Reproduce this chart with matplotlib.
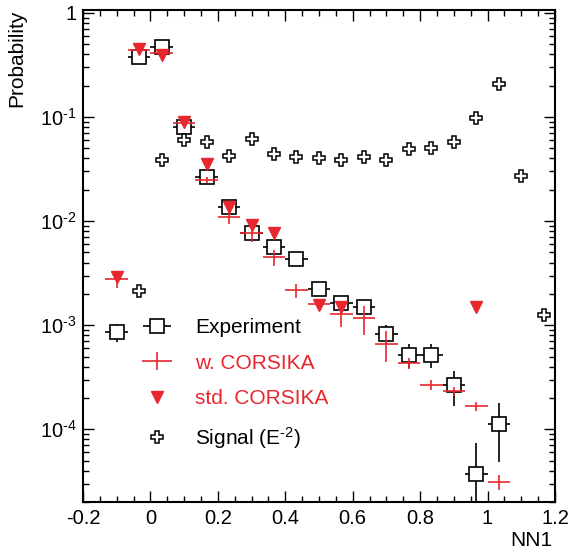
import numpy as np
import matplotlib
matplotlib.use('Agg')
import matplotlib.pyplot as plt
from matplotlib.ticker import FixedLocator, LogLocator, FuncFormatter, MultipleLocator
from matplotlib.legend_handler import HandlerErrorbar

plt.rcParams['font.family'] = ['Liberation Sans', 'DejaVu Sans']
plt.rcParams['mathtext.fontset'] = 'custom'
plt.rcParams['mathtext.rm'] = 'Liberation Sans'
plt.rcParams['mathtext.it'] = 'Liberation Sans:italic'
plt.rcParams['axes.unicode_minus'] = False

# bin centres of NN1 (bin width 1/15)
binWidth = 1 / 15
expX = [-0.1, -0.0333, 0.0333, 0.1, 0.1667, 0.2333, 0.3, 0.3667, 0.4333, 0.5,
        0.5667, 0.6333, 0.7, 0.7667, 0.8333, 0.9, 0.9667, 1.0333]
expY = [8.6e-4, 0.375, 0.474, 0.081, 0.0267, 0.0137, 0.0076, 0.00566, 0.00428, 0.00223,
        0.00164, 0.0015, 8.3e-4, 5.2e-4, 5.2e-4, 2.65e-4, 3.75e-5, 1.13e-4]
expErr = [1.75e-4, 0.0037, 0.004, 0.0017, 0.001, 7e-4, 5e-4, 4.5e-4, 4e-4, 2.8e-4,
          2.4e-4, 2.3e-4, 1.7e-4, 1.35e-4, 1.35e-4, 9.7e-5, 3.7e-5, 6.4e-5]

wcX = expX
wcY = [2.77e-3, 0.44, 0.41, 0.087, 0.0248, 0.011, 0.0076, 0.00447, 0.00217, 0.0016,
       0.00127, 0.00116, 6.6e-4, 4.3e-4, 2.69e-4, 2.32e-4, 1.66e-4, 3.1e-5]
wcErr = [5e-4, 0.01, 0.01, 0.002, 0.0017, 0.0016, 0.00125, 8e-4, 3.3e-4, 2e-4,
         3e-4, 3.6e-4, 2.2e-4, 5e-5, 3e-5, 2.5e-5, 1.5e-5, 5e-6]

stdX = [-0.1, -0.0333, 0.0333, 0.1, 0.1667, 0.2333, 0.3, 0.3667, 0.5, 0.5667, 0.9667]
stdY = [2.9e-3, 0.45, 0.39, 0.0895, 0.0353, 0.0136, 0.00917, 0.0076, 0.00155, 0.0015, 0.0015]

sigX = [-0.0333, 0.0333, 0.1, 0.1667, 0.2333, 0.3, 0.3667, 0.4333, 0.5, 0.5667,
        0.6333, 0.7, 0.7667, 0.8333, 0.9, 0.9667, 1.0333, 1.1, 1.1667]
sigY = [2.14e-3, 0.0386, 0.060, 0.058, 0.042, 0.061, 0.044, 0.0415, 0.040, 0.039,
        0.0415, 0.039, 0.049, 0.050, 0.057, 0.097, 0.206, 0.0273, 1.25e-3]

yTicks = [1, 1e-1, 1e-2, 1e-3, 1e-4]
yTickLabels = ['1', r'$\mathregular{10^{\text{-}1}}$', r'$\mathregular{10^{\text{-}2}}$',
               r'$\mathregular{10^{\text{-}3}}$', r'$\mathregular{10^{\text{-}4}}$']

red = '#e8262d'

fig = plt.figure(figsize=(5.7, 5.53), dpi=100)
ax = fig.add_axes([0.1456, 0.0922, 0.828, 0.89])
ax.set_yscale('log')
ax.set_xlim(-0.2, 1.2)
ax.set_ylim(2e-5, 1.07)

exp = ax.errorbar(expX, expY, xerr=binWidth / 2, yerr=expErr, fmt='s', ms=9.5,
                  mfc='white', mec='black', mew=1.2, ecolor='black', elinewidth=1.2,
                  capsize=0, label='Experiment', zorder=3)
wc = ax.errorbar(wcX, wcY, xerr=binWidth / 2, yerr=wcErr, fmt='none', ecolor=red,
                 elinewidth=1.2, capsize=0, label='w. CORSIKA', zorder=4)
std, = ax.plot(stdX, stdY, 'v', color=red, ms=9, ls='none', label='std. CORSIKA', zorder=5)
sig, = ax.plot(sigX, sigY, 'P', mfc='white', mec='black', mew=1.1, ms=9, ls='none',
               label=r'Signal (E$^{\mathregular{\text{-}2}}$)', zorder=5)

# axis ticks
ax.xaxis.set_major_locator(MultipleLocator(0.2))
ax.xaxis.set_minor_locator(MultipleLocator(0.05))
ax.xaxis.set_major_formatter(FuncFormatter(lambda v, p: f'{v:.1f}'.rstrip('0').rstrip('.') if abs(v) > 1e-9 else '0'))
ax.yaxis.set_major_locator(FixedLocator(yTicks))
ax.yaxis.set_major_formatter(FuncFormatter(lambda v, p: yTickLabels[yTicks.index(v)] if v in yTicks else ''))
ax.yaxis.set_minor_locator(LogLocator(base=10, subs=np.arange(2, 10)))
ax.yaxis.set_minor_formatter(FuncFormatter(lambda v, p: ''))
ax.tick_params(which='both', direction='in', top=True, right=True, width=1.0, labelsize=14.5)
ax.tick_params(which='major', length=8)
ax.tick_params(which='minor', length=4)
ax.tick_params(axis='x', pad=5)
ax.tick_params(axis='y', pad=4.5)
for sp in ax.spines.values():
    sp.set_linewidth(1.5)

ax.set_ylabel('Probability', fontsize=15, loc='top')
ax.yaxis.set_label_coords(-0.12, 1.0)
ax.set_xlabel('NN1', fontsize=15, loc='right')
ax.xaxis.set_label_coords(0.995, -0.058)

leg = ax.legend(handles=[exp, wc, std, sig], loc='upper left', bbox_to_anchor=(0.125, 0.374),
                frameon=False, fontsize=15, numpoints=1, handlelength=1.45,
                handletextpad=1.1, labelspacing=0.8, borderpad=0, borderaxespad=0,
                handler_map={exp: HandlerErrorbar(xerr_size=0.67, yerr_size=0.0),
                             wc: HandlerErrorbar(xerr_size=0.72, yerr_size=0.43)})
for txt, col in zip(leg.get_texts(), ['black', red, red, 'black']):
    txt.set_color(col)

fig.savefig('out.png', dpi=100)
